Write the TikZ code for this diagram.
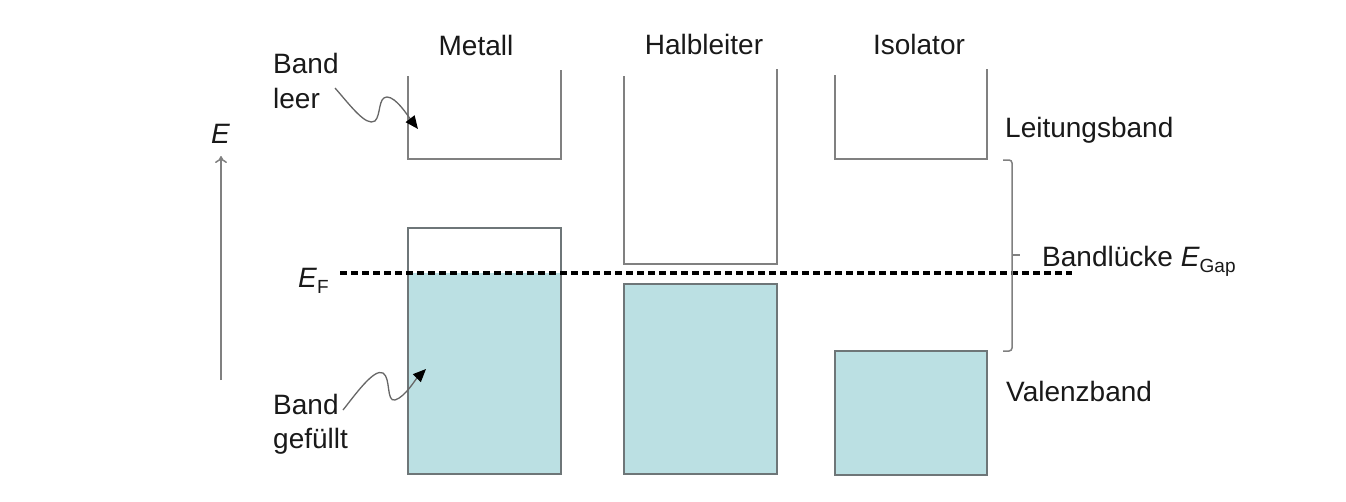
\documentclass[tikz,border=0pt]{standalone}
\usepackage{fontspec}
\setmainfont{Liberation Sans}
\usetikzlibrary{arrows.meta}
\definecolor{bandfill}{RGB}{187,224,227}
\definecolor{bandline}{RGB}{128,128,128}
\definecolor{filledline}{RGB}{110,118,120}
\begin{document}
\begin{tikzpicture}[x=1pt,y=-1pt,
  lbl/.style={inner sep=0pt,anchor=base west,font=\fontsize{28}{33}\selectfont,text=black!90},
  ctr/.style={inner sep=0pt,anchor=base,font=\fontsize{28}{33}\selectfont,text=black!90},
  bandedge/.style={draw=bandline,line width=1.8pt},
  filledband/.style={fill=bandfill,draw=filledline,line width=1.8pt},
  wavy/.style={draw=black!60,line width=1.3pt,-{Triangle[length=13pt,width=11pt,color=black]}},
  fermi/.style={draw=black,line width=3.2pt,dash pattern=on 7pt off 4pt}
]
\useasboundingbox (0,0) rectangle (1346,501);
\fill[white] (0,0) rectangle (1346,501);

% column titles
\node[ctr] (metall) at (476,55) {Metall};
\node[ctr] (halb) at (704,54) {Halbleiter};
\node[ctr] (iso) at (919,54) {Isolator};

% energy axis
\coordinate (eaxlow) at (221,380);
\coordinate (eaxhigh) at (221,156);
\draw[draw=bandline,line width=1.5pt,-{To[length=7pt,width=12pt]}] (eaxlow) -- (eaxhigh);
\node[lbl] (elabel) at (211,143) {\textit{E}};

% Metall
\fill[bandfill] (408,273) rectangle (561,474);
\draw[filledline,line width=1.8pt] (408,228) rectangle (561,474);
\draw[bandedge] (408,76) -- (408,159) -- (561,159) -- (561,70);

% Halbleiter
\draw[bandedge] (624,76) -- (624,264) -- (777,264) -- (777,69);
\draw[filledband] (624,284) rectangle (777,474);

% Isolator
\draw[bandedge] (835,75) -- (835,159) -- (987,159) -- (987,69);
\draw[filledband] (835,351) rectangle (987,475);

% Fermi level
\coordinate (efa) at (340,273);
\coordinate (efb) at (1072,273);
\draw[fermi] (efa) -- (efb);
\node[lbl] (eflabel) at (298,287) {\textit{E}\raisebox{-0.22em}{\fontsize{19}{19}\selectfont F}};

% brace
\draw[draw=bandline,line width=1.5pt,rounded corners=3pt] (1003,160) -- (1012,160) -- (1012,351) -- (1003,351);
\draw[draw=bandline,line width=1.5pt] (1012,255) -- (1020,255);

% right labels
\node[lbl] (leit) at (1005,137) {Leitungsband};
\node[lbl] (gap) at (1042,266) {Bandl\"ucke \textit{E}\raisebox{-0.22em}{\fontsize{19}{19}\selectfont Gap}};
\node[lbl] (val) at (1006,401) {Valenzband};

% left labels
\node[lbl] (bl1) at (273,73) {Band};
\node[lbl] (bl2) at (273,108) {leer};
\node[lbl] (bg1) at (273,414) {Band};
\node[lbl] (bg2) at (273,448) {gef\"ullt};

% wavy arrows
\coordinate (w1s) at (335,88);
\coordinate (w1e) at (418,129);
\draw[wavy] (w1s) .. controls (350,105) and (366,127) .. (375,121) .. controls (381,115) and (378,97) .. (387,97) .. controls (396,97) and (408,116) .. (w1e);
\coordinate (w2s) at (343,410);
\coordinate (w2e) at (426,369);
\draw[wavy] (w2s) .. controls (355,395) and (374,368) .. (383,373) .. controls (391,378) and (386,402) .. (395,400) .. controls (405,397) and (415,380) .. (w2e);
\end{tikzpicture}
\end{document}
